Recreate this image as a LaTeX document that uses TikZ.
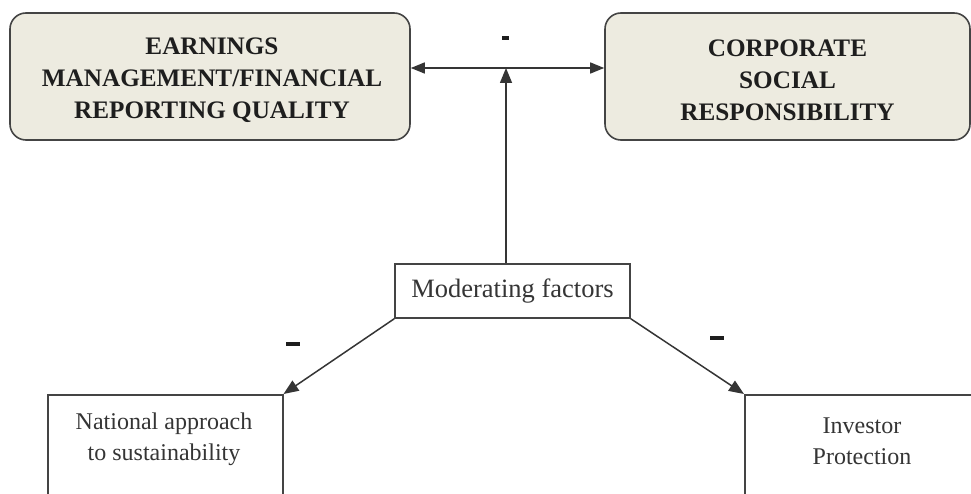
\documentclass[tikz,border=0pt]{standalone}
\usepackage{fontspec}
\setmainfont{Liberation Serif}
\usetikzlibrary{arrows.meta}
\definecolor{boxfill}{HTML}{EDEBE0}
\definecolor{edge}{HTML}{444444}
\definecolor{ink}{HTML}{1E1E1E}
\begin{document}
\begin{tikzpicture}[x=1pt,y=-1pt,
  topbox/.style={draw=edge, line width=1.6pt, fill=boxfill, rounded corners=16pt,
    inner sep=0pt},
  plainbox/.style={draw=edge, line width=1.5pt, fill=white, inner sep=0pt},
  toptext/.style={align=center, text=ink, inner sep=0pt,
    font=\fontsize{25.2}{32}\selectfont\bfseries},
  bodytext/.style={align=center, text=ink!90, inner sep=0pt,
    font=\fontsize{24}{31}\selectfont},
  sign/.style={fill=ink, inner sep=0pt},
  link/.style={line width=1.5pt, draw=ink!90, -{Triangle[length=15pt,width=12pt]}},
  twoway/.style={line width=1.5pt, draw=ink!90,
    {Triangle[length=14pt,width=11pt]}-{Triangle[length=14pt,width=11pt]}}
]
\useasboundingbox (0,0) rectangle (971,494);
\clip (0,0) rectangle (971,494);

% the two constructs
\node[topbox, minimum width=400pt, minimum height=127pt] (em) at (210,76.5) {};
\node[toptext] (emText) at (212,80)
  {EARNINGS\\MANAGEMENT/FINANCIAL\\REPORTING QUALITY};
\node[topbox, minimum width=365pt, minimum height=127pt] (csr) at (787.5,76.5) {};
\node[toptext] (csrText) at (787.5,80)
  {CORPORATE\\SOCIAL\\RESPONSIBILITY};

% moderating factors
\node[plainbox, minimum width=235pt, minimum height=54pt] (mod) at (512.5,291)
  {\fontsize{26.5}{30}\selectfont\color{ink!90}Moderating factors};

% the two moderators (running off the lower edge)
\node[plainbox, minimum width=235pt, minimum height=130pt, anchor=north west]
  (nat) at (47,394) {};
\node[bodytext] (natText) at (164,439) {National approach\\to sustainability};
\node[plainbox, minimum width=236pt, minimum height=130pt, anchor=north west]
  (inv) at (744,394) {};
\node[bodytext] (invText) at (862,441) {Investor\\Protection};

% connectors
\coordinate (hmid) at (506,68);
\draw[twoway] (hmid -| em.east) -- (hmid -| csr.west);
\draw[link] (hmid |- mod.north) -- (hmid);
\draw[link] (mod.south west) -- (nat.north east);
\draw[link] (mod.south east) -- (inv.north west);

% signs of the relations
\node[sign, minimum width=7pt, minimum height=4pt] (sTop) at (505,38) {};
\node[sign, minimum width=14pt, minimum height=3.5pt] (sLeft) at (293,344) {};
\node[sign, minimum width=14pt, minimum height=3.5pt] (sRight) at (717,338) {};
\end{tikzpicture}
\end{document}
